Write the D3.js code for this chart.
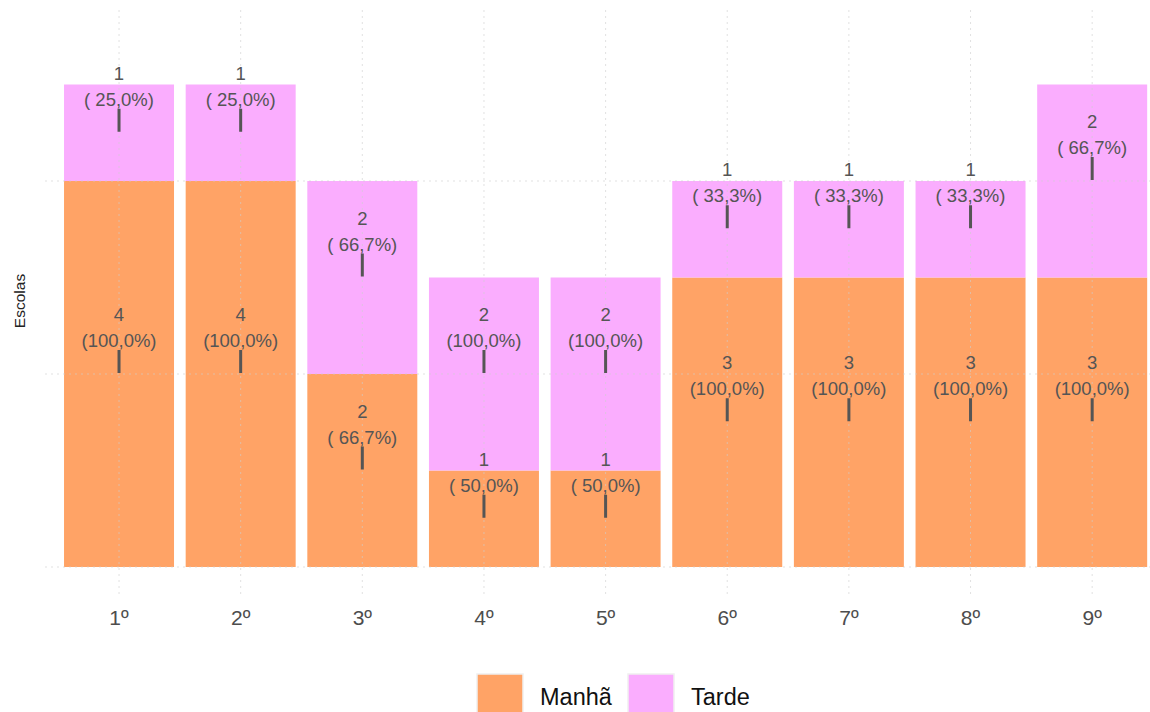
<!DOCTYPE html>
<html><head><meta charset="utf-8">
<script src="https://cdn.jsdelivr.net/npm/d3@7"></script>
<style>body{margin:0;background:#fff;} svg{display:block;font-family:"Liberation Sans",Arial,sans-serif;}</style>
</head><body>
<svg id="c" width="1150" height="712"></svg>
<script>
const categories = ["1º","2º","3º","4º","5º","6º","7º","8º","9º"];
const manha = [4,4,2,1,1,3,3,3,3];
const tarde = [1,1,2,2,2,1,1,1,2];
const manhaPct = ["(100,0%)","(100,0%)","( 66,7%)","( 50,0%)","( 50,0%)","(100,0%)","(100,0%)","(100,0%)","(100,0%)"];
const tardePct = ["( 25,0%)","( 25,0%)","( 66,7%)","(100,0%)","(100,0%)","( 33,3%)","( 33,3%)","( 33,3%)","( 66,7%)"];
const seriesNames = ["Manhã","Tarde"];
const colors = ["#FFA366","#FAADFE"];
const yTicks = [0,2,4];

const svg = d3.select("#c");
const x = d3.scaleBand().domain(categories).range([58.2,1153]).paddingInner(0.0958).paddingOuter(0.0479);
const y = d3.scaleLinear().domain([0,5]).range([567,84.5]);

// grid
const g = svg.append("g");
g.selectAll("line.h").data(yTicks).join("line")
  .attr("x1",45).attr("x2",1150).attr("y1",d=>y(d)).attr("y2",d=>y(d))
  .attr("stroke","#cfcfcf").attr("stroke-dasharray","2,4").attr("stroke-width",1);
g.selectAll("line.v").data(categories).join("line")
  .attr("x1",d=>x(d)+x.bandwidth()/2).attr("x2",d=>x(d)+x.bandwidth()/2)
  .attr("y1",10).attr("y2",595)
  .attr("stroke","#cfcfcf").attr("stroke-dasharray","2,4").attr("stroke-width",1);

// stacked data
const rows = categories.map((c,i)=>({cat:c, Manhã:manha[i], Tarde:tarde[i]}));
const stack = d3.stack().keys(seriesNames)(rows);
const pcts = [manhaPct, tardePct];

const bars = svg.append("g");
stack.forEach((s,si)=>{
  bars.selectAll(null).data(s).join("rect")
    .attr("x",d=>x(d.data.cat)).attr("width",x.bandwidth())
    .attr("y",d=>y(d[1])).attr("height",d=>y(d[0])-y(d[1]))
    .attr("fill",colors[si]);
});
g.raise();
g.attr("opacity",0.6);

const lab = svg.append("g");
stack.forEach((s,si)=>{
  s.forEach((d,i)=>{
    const cx = x(d.data.cat)+x.bandwidth()/2;
    const mid = y((d[0]+d[1])/2);
    const v = d[1]-d[0];
    lab.append("text").attr("x",cx).attr("y",mid-53).attr("text-anchor","middle")
      .attr("font-size",18.5).attr("fill","#555").text(v);
    lab.append("text").attr("x",cx).attr("y",mid-27).attr("text-anchor","middle")
      .attr("font-size",18.5).attr("fill","#555").text(pcts[si][i]);
    lab.append("line").attr("x1",cx).attr("x2",cx).attr("y1",mid-24).attr("y2",mid-1)
      .attr("stroke","#555").attr("stroke-width",3);
  });
});

// x axis labels
svg.append("g").selectAll("text").data(categories).join("text")
  .attr("x",d=>x(d)+x.bandwidth()/2).attr("y",625).attr("text-anchor","middle")
  .attr("font-size",21).attr("fill","#4d4d4d").text(d=>d);

// y title
svg.append("text").attr("transform","translate(25,301) rotate(-90)")
  .attr("text-anchor","middle").attr("font-size",15.5).attr("fill","#222").text("Escolas");

// legend
const leg = svg.append("g");
const lx = [477,628];
seriesNames.forEach((n,i)=>{
  leg.append("rect").attr("x",lx[i]).attr("y",674).attr("width",46).attr("height",46)
    .attr("fill",colors[i]).attr("stroke","#f0f0f0").attr("stroke-width",1.5);
  leg.append("text").attr("x",lx[i]+63).attr("y",705).attr("font-size",23.5).attr("fill","#111").text(n);
});
</script>
</body></html>
